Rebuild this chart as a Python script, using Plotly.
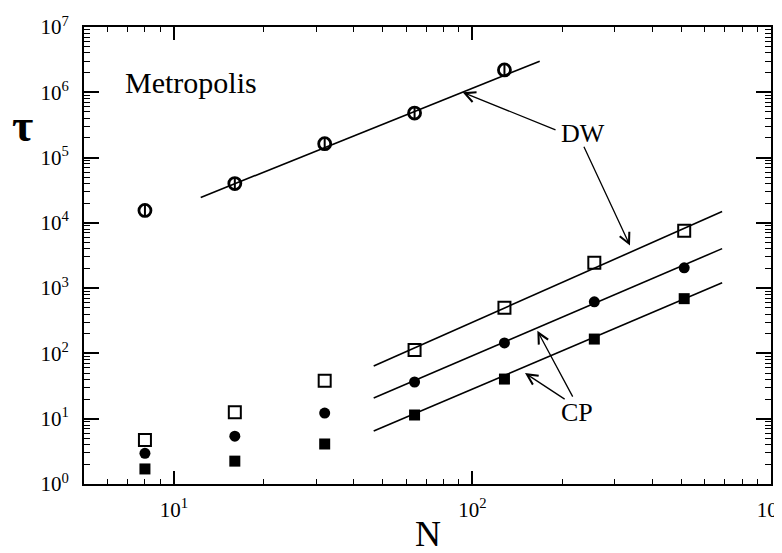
import numpy as np
import plotly.graph_objects as go

# ---- data ----
N_all = [8, 16, 32, 64, 128, 256, 512]
dw_N = [8, 16, 32, 64, 128]
dw_tau = [1.55e4, 4.0e4, 1.63e5, 4.8e5, 2.2e6]
cp_open_tau = [4.7, 12.6, 38, 113, 500, 2450, 7600]
cp_circle_tau = [2.95, 5.4, 12.2, 36.5, 145, 617, 2050]
cp_square_tau = [1.7, 2.24, 4.1, 11.4, 40.5, 166, 690]

# fitted power-law lines (end points)
dw_fit_N = [12.3, 168]
dw_fit_tau = [2.45e4, 3.0e6]
cp_fit_N = [46.7, 686]
cp_open_fit = [64.3, 14900]
cp_circle_fit = [20.7, 4030]
cp_square_fit = [6.46, 1210]

x_tick_vals = [10, 100, 1000]
x_tick_text = ["10<sup>1</sup>", "10<sup>2</sup>", "10<sup>3</sup>"]
y_tick_vals = [1, 10, 100, 1e3, 1e4, 1e5, 1e6, 1e7]
y_tick_text = ["10<sup>%d</sup>" % k for k in range(8)]

FONT = "Liberation Serif, Times New Roman, serif"

fig = go.Figure()

line_style = dict(color="black", width=1.6)
for xs, ys in [(dw_fit_N, dw_fit_tau), (cp_fit_N, cp_open_fit),
               (cp_fit_N, cp_circle_fit), (cp_fit_N, cp_square_fit)]:
    fig.add_trace(go.Scatter(x=xs, y=ys, mode="lines", line=line_style,
                             showlegend=False, hoverinfo="skip"))

# DW points: open circle with a vertical bar inside
fig.add_trace(go.Scatter(x=dw_N, y=dw_tau, mode="markers", showlegend=False,
                         marker=dict(symbol="circle-open", size=12, color="black",
                                     line=dict(width=2.8, color="black"))))
fig.add_trace(go.Scatter(x=dw_N, y=dw_tau, mode="markers", showlegend=False,
                         marker=dict(symbol="line-ns-open", size=8, color="black",
                                     line=dict(width=2, color="black"))))

fig.add_trace(go.Scatter(x=N_all, y=cp_open_tau, mode="markers", showlegend=False,
                         marker=dict(symbol="square-open", size=12, color="black",
                                     line=dict(width=2, color="black"))))
fig.add_trace(go.Scatter(x=N_all, y=cp_circle_tau, mode="markers", showlegend=False,
                         marker=dict(symbol="circle", size=11, color="black")))
fig.add_trace(go.Scatter(x=N_all, y=cp_square_tau, mode="markers", showlegend=False,
                         marker=dict(symbol="square", size=11, color="black")))

L = np.log10

def arrow(hx, hy, tx, ty):
    fig.add_annotation(x=L(hx), y=L(hy), ax=L(tx), ay=L(ty),
                       xref="x", yref="y", axref="x", ayref="y",
                       showarrow=True, arrowhead=5, arrowsize=1.6,
                       arrowwidth=1.3, arrowcolor="black", text="")

arrow(92.7, 1.0e6, 192, 2.6e5)
arrow(337, 4480, 235, 1.54e5)
arrow(165, 222, 218, 20.7)
arrow(150, 50, 206, 19.3)

fig.add_annotation(x=L(235), y=L(2.36e5), text="DW", showarrow=False,
                   font=dict(family=FONT, size=26, color="black"))
fig.add_annotation(x=L(224), y=L(12.6), text="CP", showarrow=False,
                   font=dict(family=FONT, size=26, color="black"))
fig.add_annotation(x=L(11.4), y=6.155, text="Metropolis", showarrow=False,
                   font=dict(family=FONT, size=30, color="black"))

# axis titles
fig.add_annotation(x=-0.089, y=0.785, xref="paper", yref="paper", text="<b>τ</b>",
                   xanchor="center", yanchor="middle",
                   showarrow=False, font=dict(family=FONT, size=46, color="black"))
fig.add_annotation(x=0.5, y=-0.158, xref="paper", yref="paper", text="N",
                   showarrow=False, xanchor="center", yanchor="bottom",
                   font=dict(family=FONT, size=36, color="black"))

def minor_vals(lo, hi):
    return [m * 10 ** k for k in range(lo, hi) for m in range(2, 10)]

fig.update_xaxes(type="log", range=[L(5), 3], tickmode="array",
                 tickvals=x_tick_vals, ticktext=x_tick_text, automargin=False,
                 ticks="inside", ticklen=13, tickwidth=1.5, tickcolor="black",
                 showline=True, linecolor="black", linewidth=2, mirror="ticks",
                 showgrid=False, zeroline=False, ticklabeloverflow="allow",
                 ticklabelstandoff=6,
                 tickfont=dict(family=FONT, size=21, color="black"),
                 minor=dict(tickmode="array", tickvals=minor_vals(0, 3),
                            ticks="inside", ticklen=5, tickwidth=1.2,
                            tickcolor="black", showgrid=False))
fig.update_yaxes(type="log", range=[0, 7], tickmode="array",
                 tickvals=y_tick_vals, ticktext=y_tick_text, automargin=False,
                 ticks="inside", ticklen=15, tickwidth=1.5, tickcolor="black",
                 showline=True, linecolor="black", linewidth=2, mirror="ticks",
                 showgrid=False, zeroline=False, ticklabelstandoff=9,
                 ticklabeloverflow="allow",
                 tickfont=dict(family=FONT, size=21, color="black"),
                 minor=dict(tickmode="array", tickvals=minor_vals(0, 7),
                            ticks="inside", ticklen=6, tickwidth=1.2,
                            tickcolor="black", showgrid=False))

# the page body adds an 8px offset, so the margins are reduced by 8px at left/top
fig.update_layout(width=782, height=553,
                  margin=dict(l=76, r=19, t=19, b=77),
                  paper_bgcolor="white", plot_bgcolor="white",
                  font=dict(family=FONT, color="black"))

fig.write_html("out.html")
